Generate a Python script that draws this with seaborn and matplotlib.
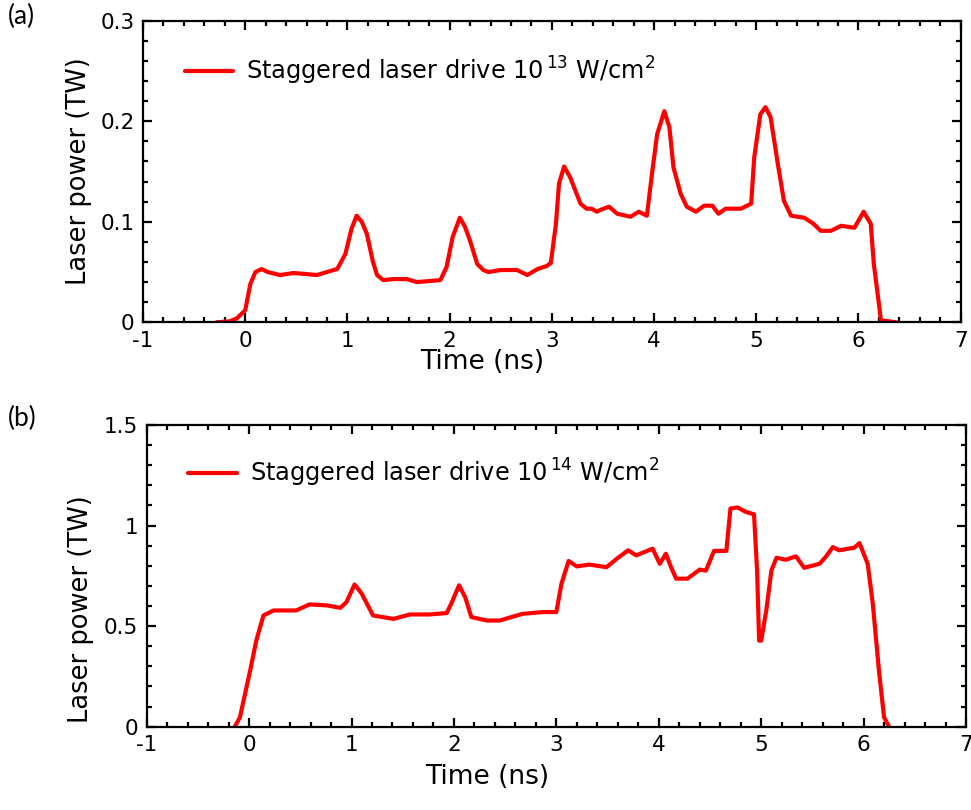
import matplotlib
matplotlib.use("Agg")
import matplotlib.pyplot as plt
import seaborn as sns
import pandas as pd
from matplotlib.ticker import MultipleLocator

# ---- data ----
time_a = [-0.28, -0.15, -0.08, 0.0, 0.05, 0.10, 0.16, 0.22, 0.34, 0.47, 0.60, 0.70, 0.80, 0.90,
          0.98, 1.04, 1.09, 1.14, 1.19, 1.25, 1.29, 1.35, 1.45, 1.58, 1.68, 1.80, 1.91, 1.97,
          2.03, 2.10, 2.15, 2.20, 2.27, 2.33, 2.38, 2.50, 2.66, 2.76, 2.86, 2.95, 2.99, 3.04,
          3.07, 3.12, 3.18, 3.28, 3.34, 3.39, 3.44, 3.48, 3.56, 3.64, 3.77, 3.85, 3.93, 3.98,
          4.03, 4.10, 4.15, 4.19, 4.26, 4.32, 4.41, 4.49, 4.57, 4.63, 4.70, 4.85, 4.95, 4.98,
          5.04, 5.09, 5.14, 5.21, 5.27, 5.34, 5.47, 5.53, 5.56, 5.63, 5.73, 5.83, 5.96, 6.05,
          6.12, 6.15, 6.22, 6.37]
power_a = [0.0, 0.001, 0.004, 0.012, 0.038, 0.050, 0.053, 0.050, 0.047, 0.049, 0.048, 0.047,
           0.050, 0.053, 0.068, 0.093, 0.106, 0.100, 0.088, 0.060, 0.047, 0.042, 0.043, 0.043,
           0.040, 0.041, 0.042, 0.055, 0.085, 0.104, 0.095, 0.081, 0.058, 0.052, 0.050, 0.052,
           0.052, 0.047, 0.053, 0.056, 0.059, 0.098, 0.138, 0.155, 0.144, 0.118, 0.113, 0.113,
           0.110, 0.112, 0.115, 0.108, 0.105, 0.110, 0.106, 0.148, 0.187, 0.210, 0.194, 0.154,
           0.128, 0.115, 0.110, 0.116, 0.116, 0.108, 0.113, 0.113, 0.118, 0.164, 0.207, 0.214,
           0.204, 0.158, 0.121, 0.106, 0.104, 0.100, 0.098, 0.091, 0.091, 0.096, 0.094, 0.110,
           0.098, 0.058, 0.002, 0.0]

time_b = [-0.14, -0.09, 0.01, 0.07, 0.14, 0.24, 0.46, 0.59, 0.76, 0.89, 0.95, 1.03, 1.10, 1.21,
          1.41, 1.57, 1.76, 1.93, 1.98, 2.05, 2.11, 2.17, 2.32, 2.45, 2.58, 2.67, 2.87, 3.00,
          3.05, 3.12, 3.20, 3.32, 3.49, 3.59, 3.70, 3.78, 3.94, 4.01, 4.07, 4.12, 4.17, 4.28,
          4.40, 4.46, 4.54, 4.66, 4.70, 4.77, 4.85, 4.93, 4.96, 4.98, 5.00, 5.05, 5.10, 5.15,
          5.24, 5.34, 5.42, 5.57, 5.63, 5.70, 5.76, 5.91, 5.96, 6.04, 6.09, 6.15, 6.20, 6.25]
power_b = [0.0, 0.046, 0.279, 0.428, 0.553, 0.578, 0.578, 0.608, 0.603, 0.591, 0.619, 0.707,
           0.661, 0.553, 0.536, 0.558, 0.558, 0.565, 0.619, 0.703, 0.644, 0.545, 0.528, 0.528,
           0.548, 0.561, 0.570, 0.570, 0.711, 0.824, 0.797, 0.806, 0.793, 0.835, 0.877, 0.852,
           0.885, 0.810, 0.860, 0.793, 0.736, 0.736, 0.781, 0.776, 0.874, 0.874, 1.085, 1.090,
           1.068, 1.056, 0.777, 0.428, 0.428, 0.578, 0.777, 0.840, 0.830, 0.847, 0.790, 0.810,
           0.844, 0.893, 0.877, 0.890, 0.913, 0.810, 0.611, 0.279, 0.046, 0.0]

x_ticks = [-1, 0, 1, 2, 3, 4, 5, 6, 7]
y_ticks_a = [0, 0.1, 0.2, 0.3]
y_ticks_b = [0, 0.5, 1, 1.5]
ylab_a = ["0", "0.1", "0.2", "0.3"]
ylab_b = ["0", "0.5", "1", "1.5"]
legend_a = "Staggered laser drive 10$^{\\,13}$ W/cm$^{2}$"
legend_b = "Staggered laser drive 10$^{\\,14}$ W/cm$^{2}$"

sns.set_theme(style="ticks")
plt.rcParams["font.family"] = ["DejaVu Sans"]
plt.rcParams["mathtext.fontset"] = "dejavusans"
plt.rcParams["mathtext.default"] = "regular"
plt.rcParams["text.color"] = "black"
plt.rcParams["axes.labelcolor"] = "black"
plt.rcParams["xtick.color"] = "black"
plt.rcParams["ytick.color"] = "black"

fig = plt.figure(figsize=(9.71, 8.10), dpi=100)
W, H = 971, 810

def px_axes(left, right, top, bottom):
    return fig.add_axes([left / W, 1 - bottom / H, (right - left) / W, (bottom - top) / H])

ax_a = px_axes(143, 960.7, 20.7, 322.3)
ax_b = px_axes(146.7, 966, 425, 726.7)

df_a = pd.DataFrame({"Time": time_a, "Power": power_a})
df_b = pd.DataFrame({"Time": time_b, "Power": power_b})

sns.lineplot(data=df_a, x="Time", y="Power", ax=ax_a, color="#ff0000", lw=3.0,
             sort=False, estimator=None, label=legend_a)
sns.lineplot(data=df_b, x="Time", y="Power", ax=ax_b, color="#ff0000", lw=3.0,
             sort=False, estimator=None, label=legend_b)

for ax, yt, yl, ymax, minor, leg_y in [
    (ax_a, y_ticks_a, ylab_a, 0.3, 0.02, 0.834),
    (ax_b, y_ticks_b, ylab_b, 1.5, 0.1, 0.841),
]:
    ax.set_xlim(-1, 7)
    ax.set_ylim(0, ymax)
    ax.set_xticks(x_ticks)
    ax.set_xticklabels([str(v) for v in x_ticks])
    ax.set_yticks(yt)
    ax.set_yticklabels(yl)
    ax.xaxis.set_minor_locator(MultipleLocator(0.2))
    ax.yaxis.set_minor_locator(MultipleLocator(minor))
    ax.tick_params(which="both", direction="in", top=True, right=True, width=1.6,
                   color="black", labelcolor="black")
    ax.tick_params(which="major", length=6.5, labelsize=15.5, pad=6)
    ax.tick_params(axis="x", which="major", pad=6)
    ax.tick_params(which="minor", length=3.6)
    for s in ax.spines.values():
        s.set_visible(True)
        s.set_linewidth(1.6)
        s.set_color("black")
    ax.set_xlabel("Time (ns)", fontsize=19, color="black")
    ax.set_ylabel("Laser power (TW)", fontsize=18.5, color="black")
    ax.grid(False)
    ax.set_facecolor("white")
    leg = ax.legend(loc="center left", bbox_to_anchor=(0.051, leg_y), frameon=False,
                    fontsize=17.3, handlelength=2.0, handletextpad=0.55,
                    borderpad=0, borderaxespad=0)
    for t in leg.get_texts():
        t.set_color("black")

ax_a.xaxis.set_label_coords(0.415, -0.088)
ax_a.yaxis.set_label_coords(-0.062, 0.5)
ax_b.xaxis.set_label_coords(0.415, -0.125)
ax_b.yaxis.set_label_coords(-0.064, 0.39)

fig.text(8 / W, 1 - 4 / H, "(a)", fontsize=19, family=["Lato", "DejaVu Sans"], va="top", ha="left", color="black")
fig.text(8 / W, 1 - 406 / H, "(b)", fontsize=19, family=["Lato", "DejaVu Sans"], va="top", ha="left", color="black")

fig.savefig("out.png", dpi=100, facecolor="white")
